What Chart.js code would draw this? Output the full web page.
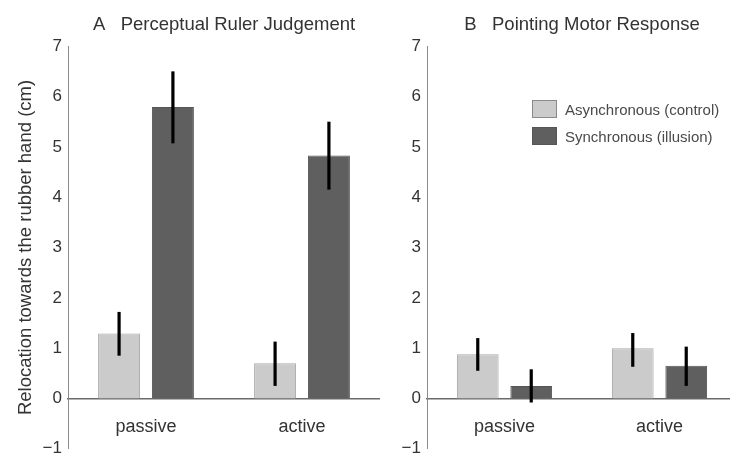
<!DOCTYPE html>
<html>
<head>
<meta charset="utf-8">
<script src="https://cdn.jsdelivr.net/npm/chart.js@4.4.1/dist/chart.umd.min.js"></script>
<style>
  html, body { margin: 0; padding: 0; background: #fff; overflow: hidden; }
  #wrap { position: relative; width: 730px; height: 453px; overflow: hidden; }
  #panelA { position: absolute; left: 0; top: 0; }
  #panelB { position: absolute; left: 380px; top: 0; }
  #legend { position: absolute; left: 532px; top: 100px; font: 15px "Liberation Sans", Arial, sans-serif; color: #4a4a4a; }
  #legend .row { display: flex; align-items: center; height: 18px; margin-bottom: 9px; }
  #legend .sw { width: 23px; height: 16px; margin-right: 8px; }
</style>
</head>
<body>
<div id="wrap">
  <canvas id="panelA" width="380" height="465"></canvas>
  <canvas id="panelB" width="357" height="465"></canvas>
  <div id="legend"></div>
</div>
<script>
// conditions on the x axis
const groups = ["passive", "active"];
const seriesNames = ["Asynchronous (control)", "Synchronous (illusion)"];
const yTicks = { min: -1, max: 7, step: 1 };

// A: perceptual ruler judgement (means and error bar ends)
const rulerAsync = [1.29, 0.70];
const rulerAsyncLow = [0.85, 0.25];
const rulerAsyncHigh = [1.72, 1.13];
const rulerSync = [5.79, 4.83];
const rulerSyncLow = [5.07, 4.15];
const rulerSyncHigh = [6.50, 5.50];

// B: pointing motor response
const pointAsync = [0.88, 1.00];
const pointAsyncLow = [0.55, 0.63];
const pointAsyncHigh = [1.20, 1.30];
const pointSync = [0.25, 0.65];
const pointSyncLow = [-0.08, 0.25];
const pointSyncHigh = [0.58, 1.03];

const fills = ["#cbcbcb", "#5f5f5f"];
const edges = ["#a8a8a8", "#555555"];

Chart.defaults.font.family = '"Liberation Sans", Arial, sans-serif';

// black error bars drawn on top of every bar
const errorBars = {
    id: "errorBars",
    afterDatasetsDraw: function (chart) {
        const ctx = chart.ctx;
        const y = chart.scales.y;
        ctx.save();
        ctx.strokeStyle = "#000";
        ctx.lineWidth = 3.2;
        chart.data.datasets.forEach(function (ds, i) {
            chart.getDatasetMeta(i).data.forEach(function (bar, j) {
                ctx.beginPath();
                ctx.moveTo(bar.x, y.getPixelForValue(ds.errLow[j]));
                ctx.lineTo(bar.x, y.getPixelForValue(ds.errHigh[j]));
                ctx.stroke();
            });
        });
        ctx.restore();
    },
};

function makePanel(canvas, title, series, showYTitle, yWidth) {
    return new Chart(canvas, {
        type: "bar",
        data: {
            labels: groups,
            datasets: series.map(function (s, i) {
                return {
                    label: seriesNames[i],
                    data: s.values,
                    errLow: s.low,
                    errHigh: s.high,
                    backgroundColor: fills[i],
                    borderColor: edges[i],
                    borderWidth: 1,
                    categoryPercentage: 0.69,
                    barPercentage: 0.78,
                };
            }),
        },
        options: {
            responsive: false,
            animation: false,
            layout: { padding: 0 },
            scales: {
                x: {
                    position: { y: 0 },
                    offset: true,
                    grid: { display: false, drawTicks: false },
                    border: { display: true, color: "#6a6a6a", width: 1.5 },
                    ticks: { padding: 18, color: "#333", font: { size: 18 } },
                    afterFit: function (s) { s.height = 0; },
                },
                y: {
                    min: yTicks.min,
                    max: yTicks.max,
                    ticks: {
                        stepSize: yTicks.step,
                        padding: 6,
                        color: "#333",
                        font: { size: 17 },
                        callback: function (v) { return v < 0 ? "\u2212" + Math.abs(v) : String(v); },
                    },
                    grid: { display: false, drawTicks: false },
                    border: { display: true, color: "#8a8a8a", width: 1 },
                    title: {
                        display: showYTitle,
                        text: "Relocation towards the rubber hand (cm)",
                        color: "#333",
                        font: { size: 18.5 },
                        padding: { top: 15, bottom: 0 },
                    },
                    afterFit: function (s) { s.width = yWidth; },
                },
            },
            plugins: {
                legend: { display: false },
                tooltip: { enabled: false },
                title: {
                    display: true,
                    text: title,
                    fullSize: false,
                    color: "#333",
                    font: { size: 18.5, weight: "normal" },
                    padding: { top: 14, bottom: 10 },
                },
            },
        },
        plugins: [errorBars],
    });
}

makePanel(document.getElementById("panelA"), "A   Perceptual Ruler Judgement", [
    { values: rulerAsync, low: rulerAsyncLow, high: rulerAsyncHigh },
    { values: rulerSync, low: rulerSyncLow, high: rulerSyncHigh },
], true, 68);

makePanel(document.getElementById("panelB"), "B   Pointing Motor Response", [
    { values: pointAsync, low: pointAsyncLow, high: pointAsyncHigh },
    { values: pointSync, low: pointSyncLow, high: pointSyncHigh },
], false, 47);

// legend inside panel B
const legend = document.getElementById("legend");
seriesNames.forEach(function (name, i) {
    const row = document.createElement("div");
    row.className = "row";
    const sw = document.createElement("span");
    sw.className = "sw";
    sw.style.background = fills[i];
    sw.style.border = "1px solid " + (i === 0 ? "#8a8a8a" : "#555");
    const txt = document.createElement("span");
    txt.textContent = name;
    row.appendChild(sw);
    row.appendChild(txt);
    legend.appendChild(row);
});
</script>
</body>
</html>
